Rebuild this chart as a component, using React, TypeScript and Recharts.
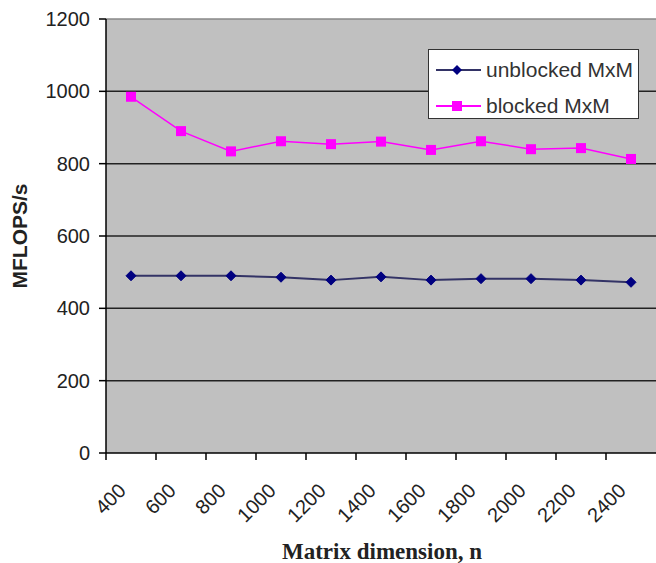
import React from 'react';
import { LineChart, Line, XAxis, YAxis, CartesianGrid, Legend, ReferenceLine } from 'recharts';

const categories = ['400', '600', '800', '1000', '1200', '1400', '1600', '1800', '2000', '2200', '2400'];
const unblocked = [490, 490, 490, 486, 478, 487, 478, 482, 482, 478, 472];
const blocked = [985, 890, 834, 862, 854, 861, 838, 862, 840, 843, 813];
const yTicks = [0, 200, 400, 600, 800, 1000, 1200];

const data = categories.map((c, i) => ({ n: c, unblocked: unblocked[i], blocked: blocked[i] }));

const FONT = '"Liberation Sans", Arial, sans-serif';
const NAVY = '#000080';
const MAGENTA = '#ff00ff';
const HALF_BAND = 25;

const Diamond = (props: any) => {
  const { cx, cy, index } = props;
  if (cx == null || cy == null) return <g key={`d${index}`} />;
  const r = 5;
  return (
    <path key={`d${index}`} d={`M${cx},${cy - r}L${cx + r},${cy}L${cx},${cy + r}L${cx - r},${cy}Z`} fill={NAVY} stroke={NAVY} strokeWidth={1} />
  );
};

const Square = (props: any) => {
  const { cx, cy, index } = props;
  if (cx == null || cy == null) return <g key={`s${index}`} />;
  const r = 5;
  return <rect key={`s${index}`} x={cx - r} y={cy - r} width={2 * r} height={2 * r} fill={MAGENTA} />;
};

const XTick = (props: any) => {
  const { x, y, payload } = props;
  const ax = x - 4;
  const ay = y + 39;
  return (
    <g>
      <line x1={x - HALF_BAND} x2={x - HALF_BAND} y1={y} y2={y + 7} stroke="#000" strokeWidth={1.5} />
      <text x={ax} y={ay} textAnchor="end" fontSize={20} fontFamily={FONT} fill="#222" transform={`rotate(-45, ${ax}, ${ay})`}>
        {payload.value}
      </text>
    </g>
  );
};

const renderLegend = () => (
  <div
    style={{
      width: 211,
      height: 70,
      background: '#fff',
      border: '1.5px solid #333',
      boxSizing: 'border-box',
      fontFamily: FONT,
      fontSize: 21,
      color: '#333',
      position: 'relative',
    }}
  >
    <svg width={60} height={70} style={{ position: 'absolute', left: 0, top: 0 }}>
      <line x1={7} x2={52} y1={20} y2={20} stroke="#333366" strokeWidth={2} />
      <path d="M28,15L33,20L28,25L23,20Z" fill={NAVY} />
      <line x1={7} x2={52} y1={56} y2={56} stroke={MAGENTA} strokeWidth={2} />
      <rect x={23} y={51} width={10} height={10} fill={MAGENTA} />
    </svg>
    <div style={{ position: 'absolute', left: 57, top: 6, lineHeight: '28px', whiteSpace: 'nowrap' }}>unblocked MxM</div>
    <div style={{ position: 'absolute', left: 57, top: 42, lineHeight: '28px', whiteSpace: 'nowrap' }}>blocked MxM</div>
  </div>
);

export default function App() {
  return (
    <div style={{ position: 'absolute', left: 0, top: 0, width: 656, height: 563, background: '#fff' }}>
      <LineChart width={656} height={563} data={data} margin={{ top: 19, right: 0, bottom: 0, left: 0 }}>
        <CartesianGrid
          vertical={false}
          horizontalValues={[200, 400, 600, 800, 1000]}
          stroke="#222"
          strokeWidth={1.5}
          fill="#c0c0c0"
          fillOpacity={1}
        />
        <ReferenceLine y={1200} stroke="#888" strokeWidth={1.5} ifOverflow="extendDomain" />
        <XAxis
          dataKey="n"
          type="category"
          padding={{ left: HALF_BAND, right: HALF_BAND }}
          height={110}
          tickLine={false}
          tickSize={0}
          tickMargin={0}
          axisLine={{ stroke: '#000', strokeWidth: 1.5 }}
          tick={<XTick />}
          interval={0}
          label={{
            content: (p: any) => {
              const vb = p.viewBox || {};
              return (
                <text
                  x={vb.x + vb.width / 2 + 1}
                  y={vb.y + 106}
                  textAnchor="middle"
                  fontFamily='"Liberation Serif", "Times New Roman", serif'
                  fontWeight="bold"
                  fontSize={23}
                  fill="#222"
                >
                  Matrix dimension, n
                </text>
              );
            },
          }}
        />
        <YAxis
          type="number"
          domain={[0, 1200]}
          ticks={yTicks}
          width={106}
          tickSize={7}
          tickMargin={9}
          axisLine={{ stroke: '#000', strokeWidth: 1.5 }}
          tickLine={{ stroke: '#000', strokeWidth: 1.5 }}
          tick={{ fontSize: 20, fontFamily: FONT, fill: '#222' }}
          interval={0}
          label={{
            content: (p: any) => {
              const vb = p.viewBox || {};
              const cx = 27;
              const cy = vb.y + vb.height / 2;
              return (
                <text
                  x={cx}
                  y={cy}
                  textAnchor="middle"
                  fontFamily={FONT}
                  fontWeight="bold"
                  fontSize={21}
                  fill="#222"
                  transform={`rotate(-90, ${cx}, ${cy})`}
                >
                  MFLOPS/s
                </text>
              );
            },
          }}
        />
        <Legend
          layout="horizontal"
          verticalAlign="middle"
          align="center"
          content={renderLegend}
          wrapperStyle={{ position: 'absolute', left: 428, top: 49, width: 211, height: 70, zIndex: 5 }}
        />
        <Line
          dataKey="unblocked"
          stroke="#333366"
          strokeWidth={2}
          dot={Diamond}
          activeDot={false}
          isAnimationActive={false}
        />
        <Line
          dataKey="blocked"
          stroke={MAGENTA}
          strokeWidth={1.5}
          dot={Square}
          activeDot={false}
          isAnimationActive={false}
        />
      </LineChart>
    </div>
  );
}
